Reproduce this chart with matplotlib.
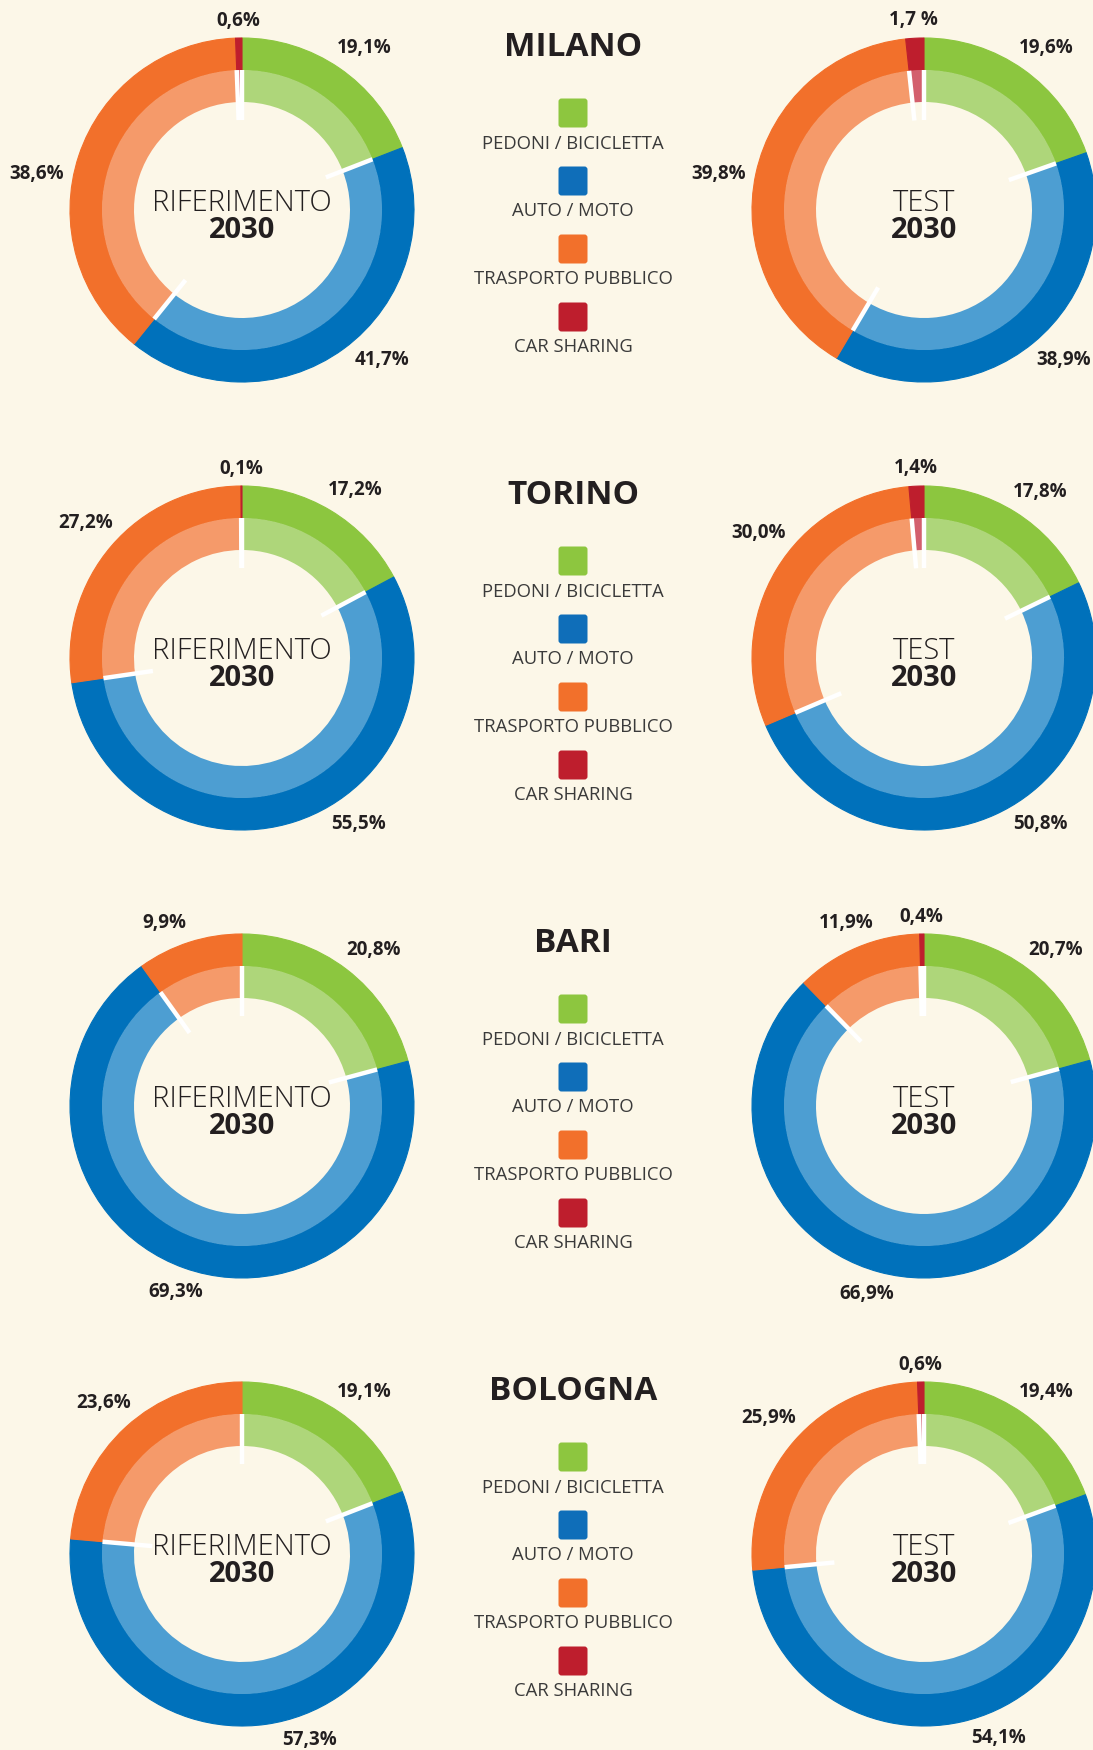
import numpy as np
import matplotlib.pyplot as plt
from matplotlib.patches import FancyBboxPatch

# ---------------- data ----------------
cities = ["MILANO", "TORINO", "BARI", "BOLOGNA"]
categories = ["PEDONI / BICICLETTA", "AUTO / MOTO", "TRASPORTO PUBBLICO", "CAR SHARING"]
scenarios = ["RIFERIMENTO", "TEST"]
year = "2030"

milano_rif = [19.1, 41.7, 38.6, 0.6]
milano_test = [19.6, 38.9, 39.8, 1.7]
torino_rif = [17.2, 55.5, 27.2, 0.1]
torino_test = [17.8, 50.8, 30.0, 1.4]
bari_rif = [20.8, 69.3, 9.9, 0.0]
bari_test = [20.7, 66.9, 11.9, 0.4]
bologna_rif = [19.1, 57.3, 23.6, 0.0]
bologna_test = [19.4, 54.1, 25.9, 0.6]

rif_values = [milano_rif, torino_rif, bari_rif, bologna_rif]
test_values = [milano_test, torino_test, bari_test, bologna_test]

label_overrides = {("MILANO", "TEST", 3): "1,7 %"}

# ---------------- layout / style ----------------
# label placement angles (degrees clockwise from top) where the original
# places a label away from the slice's middle
label_angle = {
    ("MILANO", "RIFERIMENTO", 0): 37, ("MILANO", "RIFERIMENTO", 1): 137,
    ("MILANO", "RIFERIMENTO", 2): 280,
    ("MILANO", "TEST", 0): 37, ("MILANO", "TEST", 1): 137,
    ("MILANO", "TEST", 2): 280,
    ("TORINO", "RIFERIMENTO", 0): 34, ("TORINO", "RIFERIMENTO", 1): 145,
    ("TORINO", "TEST", 0): 35, ("TORINO", "TEST", 1): 145,
    ("TORINO", "TEST", 2): 307,
    ("BARI", "RIFERIMENTO", 0): 40, ("BARI", "RIFERIMENTO", 2): 337,
    ("BARI", "TEST", 0): 40, ("BARI", "TEST", 1): 197,
    ("BOLOGNA", "RIFERIMENTO", 0): 37, ("BOLOGNA", "RIFERIMENTO", 1): 160,
    ("BOLOGNA", "TEST", 0): 37, ("BOLOGNA", "TEST", 1): 158,
}

bg = "#FCF7E8"
outer_colors = ["#8CC63F", "#0071BB", "#F2702B", "#BE1E2D"]
inner_colors = ["#AED67A", "#4D9ED2", "#F59A6A", "#D35F6D"]
legend_colors = ["#8DC63F", "#0F6EB9", "#F2702B", "#BE1E2D"]
txt = "#231F20"
FONT = "Open Sans"

W, H = 1093, 1750
row_y0, row_step = 210, 448
left_cx, right_cx, mid_cx = 242, 924, 573
R_out, R_mid, R_in, R_line = 172, 140, 108, 90

fig = plt.figure(figsize=(W / 100, H / 100), dpi=100, facecolor=bg)
ax = fig.add_axes([0, 0, 1, 1])
ax.set_facecolor(bg)


def fmt(v):
    return f"{v:.1f}".replace(".", ",") + "%"


def draw_donut(cx, cy_pix, values, scen, city):
    cy = H - cy_pix
    vals = np.asarray(values, dtype=float)
    total = vals.sum()
    wo, _ = ax.pie(vals, radius=R_out, center=(cx, cy), startangle=90,
                   counterclock=False, colors=outer_colors, normalize=True,
                   wedgeprops=dict(width=R_out - R_mid, linewidth=0.8))
    for w, c, v in zip(wo, outer_colors, vals):
        w.set_edgecolor(c)
        if v == 0:
            w.set_visible(False)
    wi, _ = ax.pie(vals, radius=R_mid, center=(cx, cy), startangle=90,
                   counterclock=False, colors=inner_colors, normalize=True,
                   wedgeprops=dict(width=R_mid - R_in, linewidth=0))
    for w, v in zip(wi, vals):
        if v == 0:
            w.set_visible(False)
    cum = np.concatenate([[0], np.cumsum(vals)]) / total
    for i, v in enumerate(vals):
        if v <= 0:
            continue
        a = np.deg2rad(90 - 360 * cum[i])
        ax.plot([cx + R_line * np.cos(a), cx + R_mid * np.cos(a)],
                [cy + R_line * np.sin(a), cy + R_mid * np.sin(a)],
                color="white", lw=3.2, solid_capstyle="butt", zorder=5)
        deg = label_angle.get((city, scen, i), 360 * (cum[i] + v / total / 2))
        phi = np.deg2rad(deg)
        ux, uy = np.sin(phi), np.cos(phi)
        d = 180 + abs(ux) * 27 + abs(uy) * 9
        lab = label_overrides.get((city, scen, i), fmt(v))
        ax.text(cx + d * ux, cy + d * uy, lab, ha="center", va="center",
                fontsize=13.5, fontweight="bold", color=txt, family=FONT)
    ax.text(cx, cy + 7, scen, ha="center", va="center", fontsize=21,
            fontweight="light", color=txt, family=FONT)
    ax.text(cx, cy - 21, year, ha="center", va="center", fontsize=21,
            fontweight="bold", color=txt, family=FONT)


for k, city in enumerate(cities):
    ry = row_y0 + k * row_step
    draw_donut(left_cx, ry, rif_values[k], scenarios[0], city)
    draw_donut(right_cx, ry, test_values[k], scenarios[1], city)
    ax.text(mid_cx, H - (ry - 162), city, ha="center", va="center",
            fontsize=24, fontweight="bold", color=txt, family=FONT)
    sq_off = [-97, -29, 39, 107]
    lb_off = [-66, 1, 69, 137]
    for j, cat in enumerate(categories):
        s = 29
        yc = H - (ry + sq_off[j])
        ax.add_patch(FancyBboxPatch((mid_cx - s / 2, yc - s / 2), s, s,
                                    boxstyle="round,pad=0,rounding_size=3",
                                    facecolor=legend_colors[j], edgecolor="none"))
        ax.text(mid_cx, H - (ry + lb_off[j]), cat, ha="center", va="center",
                fontsize=13.3, color="#3A3A3A", family=FONT)

ax.set_xlim(0, W)
ax.set_ylim(0, H)
ax.set_aspect("equal")
ax.axis("off")
fig.savefig("out.png", dpi=100, facecolor=bg)
